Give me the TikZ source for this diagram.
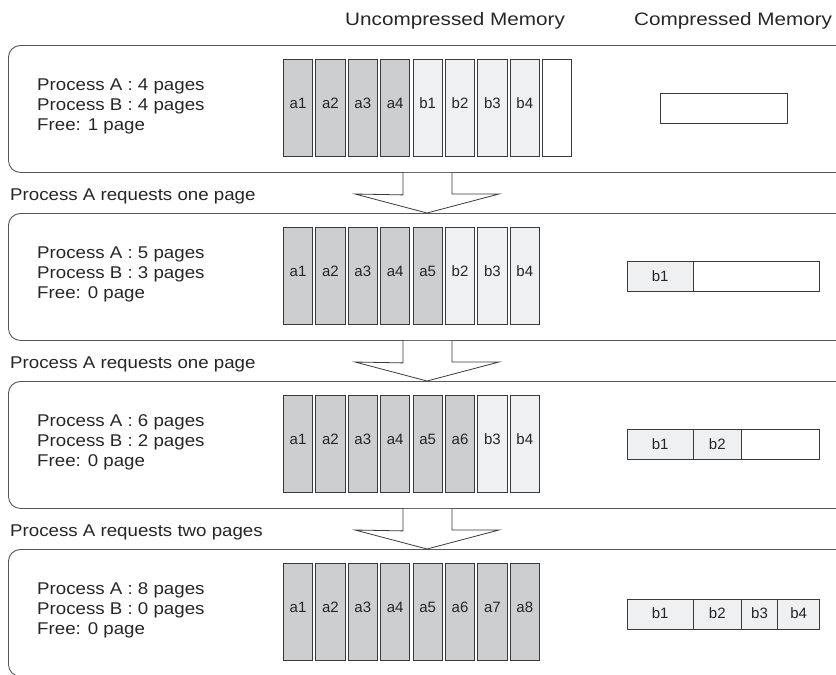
\documentclass[tikz,border=0pt]{standalone}
\usepackage{fontspec}
\setmainfont{Liberation Sans}
\newfontfamily\widesans{Liberation Sans}[FakeStretch=1.1]
\newfontfamily\headsans{Liberation Sans}[FakeStretch=1.15]
\definecolor{pageA}{HTML}{CDCED0}
\definecolor{pageB}{HTML}{EFF0F2}
\definecolor{edge}{HTML}{3A3A3A}
\definecolor{frame}{HTML}{555555}
\tikzset{
  txt/.style={font=\widesans\fontsize{17}{20}\selectfont, inner sep=0pt, text=black!85},
  head/.style={font=\headsans\fontsize{18}{20}\selectfont, inner sep=0pt, text=black!85},
  panel/.style={draw=frame, line width=0.9pt, rounded corners=12pt, rectangle,
    minimum width=852pt, minimum height=127pt, inner sep=0pt, anchor=north west},
  page/.style={draw=edge, line width=0.8pt, rectangle, inner sep=0pt,
    minimum width=29.3pt, minimum height=97pt, text height=0pt, text depth=0pt,
    font=\fontsize{15}{18}\selectfont, text=black!85},
  pgA/.style={page, fill=pageA},
  pgB/.style={page, fill=pageB},
  pgF/.style={page, fill=white},
  seg/.style={draw=edge, line width=0.8pt, rectangle, inner sep=0pt, anchor=west,
    minimum height=30pt, text height=8.6pt, text depth=0pt,
    font=\fontsize{15}{18}\selectfont, text=black!85},
  segB/.style={seg, fill=pageB},
  segF/.style={seg, fill=white},
  blockarrow/.style={draw=edge, fill=white, line width=0.8pt, line join=miter},
}
\begin{document}
\begin{tikzpicture}[x=1pt, y=-1pt]
\useasboundingbox (0,0) rectangle (836,675);
\clip (0,0) rectangle (836,675);

% column headings
\node[head, anchor=base west] (hdrU) at (345,25) {Uncompressed Memory};
\node[head, anchor=base west] (hdrC) at (634,25) {Compressed Memory};

% the four memory states
\foreach \k in {0,1,2,3} {
  \node[panel] (panel\k) at (8,{45+168*\k}) {};
}

% process summaries
\foreach \k/\a/\b/\f in {0/4 pages/4 pages/1 page, 1/5 pages/3 pages/0 page,
                          2/6 pages/2 pages/0 page, 3/8 pages/0 pages/0 page} {
  \node[txt, anchor=base west] (sa\k) at (37,{90.7+168*\k}) {Process A : \a};
  \node[txt, anchor=base west] (sb\k) at (37,{110.7+168*\k}) {Process B : \b};
  \node[txt, anchor=base west] (sf\k) at (37,{130.7+168*\k}) {Free: \f};
}

% uncompressed page frames
\foreach \t/\l [count=\i from 0] in {A/a1,A/a2,A/a3,A/a4,B/b1,B/b2,B/b3,B/b4,F/{}}
  \node[pg\t] (u0\i) at ({298+32.4*\i},108) {\l};
\foreach \t/\l [count=\i from 0] in {A/a1,A/a2,A/a3,A/a4,A/a5,B/b2,B/b3,B/b4}
  \node[pg\t] (u1\i) at ({298+32.4*\i},276) {\l};
\foreach \t/\l [count=\i from 0] in {A/a1,A/a2,A/a3,A/a4,A/a5,A/a6,B/b3,B/b4}
  \node[pg\t] (u2\i) at ({298+32.4*\i},444) {\l};
\foreach \t/\l [count=\i from 0] in {A/a1,A/a2,A/a3,A/a4,A/a5,A/a6,A/a7,A/a8}
  \node[pg\t] (u3\i) at ({298+32.4*\i},612) {\l};

% compressed store
\node[segF, minimum width=126.7pt] (c00) at (660,108.3) {};
\node[segB, minimum width=66pt] (c10) at (626.7,276.7) {b1};
\node[segF, minimum width=126.6pt] (c11) at (692.7,276.7) {};
\node[segB, minimum width=66pt] (c20) at (626.7,444.7) {b1};
\node[segB, minimum width=48.3pt] (c21) at (692.7,444.7) {b2};
\node[segF, minimum width=78.3pt] (c22) at (741,444.7) {};
\node[segB, minimum width=66pt] (c30) at (626.7,614.3) {b1};
\node[segB, minimum width=48.3pt] (c31) at (692.7,614.3) {b2};
\node[segB, minimum width=36.3pt] (c32) at (741,614.3) {b3};
\node[segB, minimum width=42pt] (c33) at (777.3,614.3) {b4};

% transitions between states
\foreach \k/\msg in {0/one page, 1/one page, 2/two pages} {
  \pgfmathtruncatemacro\n{\k+1}
  \draw[blockarrow] (panel\k.south -| 403,0) -- ++(0,22) -- (355,{194+168*\k})
    -- (panel\n.north -| 427,0) -- (499,{194+168*\k}) -- (452,{194+168*\k})
    -- (panel\k.south -| 452,0);
  \node[txt, anchor=base west] (req\k) at (10,{200+168*\k}) {Process A requests \msg};
}
\end{tikzpicture}
\end{document}
